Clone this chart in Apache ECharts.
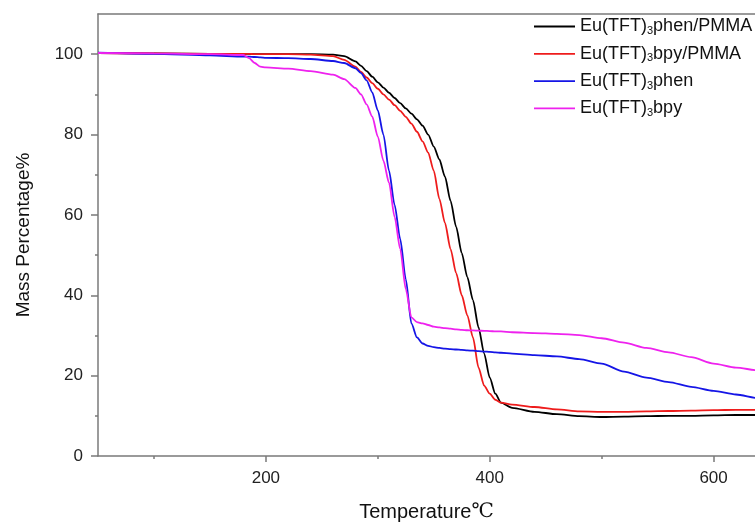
<!DOCTYPE html>
<html>
<head>
<meta charset="utf-8">
<script src="https://cdn.jsdelivr.net/npm/echarts@6/dist/echarts.min.js"></script>
<style>
  html, body { margin: 0; padding: 0; background: #fff; }
  #chart { width: 755px; height: 522px; }
</style>
</head>
<body>
<div id="chart"></div>
<script>
// temperature grid (°C) shared by all curves
const temps = [50,100,150,180,185,190,195,200,
  220,240,260,270,280,285,290,295,
  300,305,310,315,320,325,330,335,
  340,345,350,355,360,365,370,375,
  380,385,390,395,400,405,410,420,
  440,460,480,500,520,540,560,580,
  600,620,640,650]

const phenPMMA = [100.3,100.2,100.1,100.1,100.1,100,100,100,
  100,100,99.9,99.5,98.2,97.1,95.8,94.4,
  93,91.7,90.4,89.1,87.8,86.5,85.2,83.8,
  82.2,80,77,73.8,69.5,63.5,57,50.5,
  44.5,38.8,32,25.5,19.5,15.5,13.3,12,
  11,10.4,9.9,9.7,9.8,9.9,10,10,
  10.1,10.2,10.2,10.2]

const bpyPMMA = [100.3,100.2,100.1,100.1,100.1,100,100,100,
  100,99.9,99.5,98.6,96.9,95.6,94.2,92.8,
  91.4,90,88.7,87.3,85.9,84.4,82.7,80.7,
  78.3,75.5,71,64,58,51.5,45.5,40,
  35,29.5,22,17.5,15.5,14,13.3,12.8,
  12.2,11.6,11.1,11,11,11.1,11.2,11.3,
  11.4,11.5,11.5,11.5]

const phen = [100.4,100.1,99.7,99.4,99.4,99.3,99.2,99.1,
  99,98.8,98.3,97.8,96.5,95.3,93.5,90.5,
  86,80,71,62.5,54,44,33,29.5,
  28,27.4,27.1,26.9,26.7,26.6,26.5,26.4,
  26.3,26.2,26.1,26,25.9,25.8,25.7,25.5,
  25.1,24.8,24.1,23,21,19.5,18.4,17.2,
  16.2,15.3,14.4,14]

const bpy = [100.3,100.2,100,99.8,99,97.8,96.9,96.7,
  96.4,95.8,94.9,93.8,91.6,90,87.5,84.5,
  79.5,73.5,68,59.5,51.5,41.5,34.5,33.3,
  33,32.6,32.2,32,31.8,31.7,31.5,31.4,
  31.3,31.25,31.2,31.15,31.1,31,31,30.8,
  30.6,30.4,30.1,29.3,28.2,26.9,25.8,24.6,
  23,22,21.3,21]

const seriesNames = ['Eu(TFT)3phen/PMMA', 'Eu(TFT)3bpy/PMMA', 'Eu(TFT)3phen', 'Eu(TFT)3bpy']
const seriesColors = ['#000000', '#ee1c1c', '#1515e6', '#ee22ee']
const xMajorTicks = [200, 400, 600]
const xMinorTicks = [100, 300, 500]
const yMajorTicks = [0, 20, 40, 60, 80, 100]
const yMinorTicks = [10, 30, 50, 70, 90]

const pair = vals => temps.map((t, i) => [t, vals[i]])
const allValues = [phenPMMA, bpyPMMA, phen, bpy]

const axisGrey = '#7a7a7a'
const font = 'Liberation Sans, Arial, sans-serif'
// the original plot runs past the right edge of the picture, so the axis stops at ~637
const X_MIN = 50
const X_MAX = 637

const chart = echarts.init(document.getElementById('chart'))

const hiddenX = (position, ticks, len, showLine) => ({
  type: 'value', min: X_MIN, max: X_MAX, position,
  splitLine: { show: false },
  axisLine: { show: showLine, onZero: false, lineStyle: { color: axisGrey, width: 1.5 } },
  axisTick: { show: !!ticks, customValues: ticks || [], length: len, lineStyle: { color: axisGrey, width: 1.5 } },
  axisLabel: { show: false }
})

const option = {
  animation: false,
  backgroundColor: '#fff',
  grid: { left: 98, top: 14, right: 0, bottom: 66, outerBoundsMode: 'none', containLabel: false },
  legend: {
    orient: 'vertical',
    left: 534,
    top: 16.5,
    padding: 0,
    icon: 'rect',
    itemWidth: 41,
    itemHeight: 1.8,
    itemGap: 7.3,
    data: seriesNames,
    formatter: name => name.replace(')3', '){s|3}'),
    textStyle: {
      fontFamily: font, fontSize: 18, color: '#111', lineHeight: 20,
      rich: { s: { fontFamily: font, fontSize: 11, verticalAlign: 'bottom', lineHeight: 4, color: '#111' } }
    }
  },
  xAxis: [
    {
      type: 'value', min: X_MIN, max: X_MAX, position: 'bottom',
      name: 'Temperature{c|℃}', nameLocation: 'middle', nameGap: 46,
      nameTextStyle: {
        fontFamily: font, fontSize: 20, color: '#111',
        rich: { c: { fontFamily: 'DejaVu Serif, serif', fontSize: 20, color: '#111' } }
      },
      splitLine: { show: false },
      axisLine: { onZero: false, lineStyle: { color: axisGrey, width: 1.5 } },
      axisTick: { customValues: xMajorTicks, length: 6, lineStyle: { color: axisGrey, width: 1.5 } },
      axisLabel: { customValues: xMajorTicks, margin: 14, fontFamily: font, fontSize: 17, color: '#222' }
    },
    hiddenX('bottom', xMinorTicks, 3, false),
    hiddenX('top', null, 0, true)
  ],
  yAxis: [
    {
      type: 'value', min: 0, max: 110, position: 'left',
      name: 'Mass Percentage%', nameLocation: 'middle', nameGap: 65,
      nameTextStyle: { fontFamily: font, fontSize: 19, color: '#111' },
      splitLine: { show: false },
      axisLine: { show: true, onZero: false, lineStyle: { color: axisGrey, width: 1.5 } },
      axisTick: { show: true, customValues: yMajorTicks, length: 7, lineStyle: { color: axisGrey, width: 1.5 } },
      axisLabel: { customValues: yMajorTicks, margin: 15, fontFamily: font, fontSize: 17, color: '#222' }
    },
    {
      type: 'value', min: 0, max: 110, position: 'left',
      splitLine: { show: false },
      axisLine: { show: false },
      axisTick: { show: true, customValues: yMinorTicks, length: 3, lineStyle: { color: axisGrey, width: 1.5 } },
      axisLabel: { show: false }
    }
  ],
  series: seriesNames.map((name, i) => ({
    name,
    type: 'line',
    xAxisIndex: 0,
    yAxisIndex: 0,
    data: pair(allValues[i]),
    showSymbol: false,
    symbol: 'none',
    smooth: 0.25,
    smoothMonotone: 'x',
    color: seriesColors[i],
    lineStyle: { color: seriesColors[i], width: 1.8 }
  }))
}

chart.setOption(option)
</script>
</body>
</html>
